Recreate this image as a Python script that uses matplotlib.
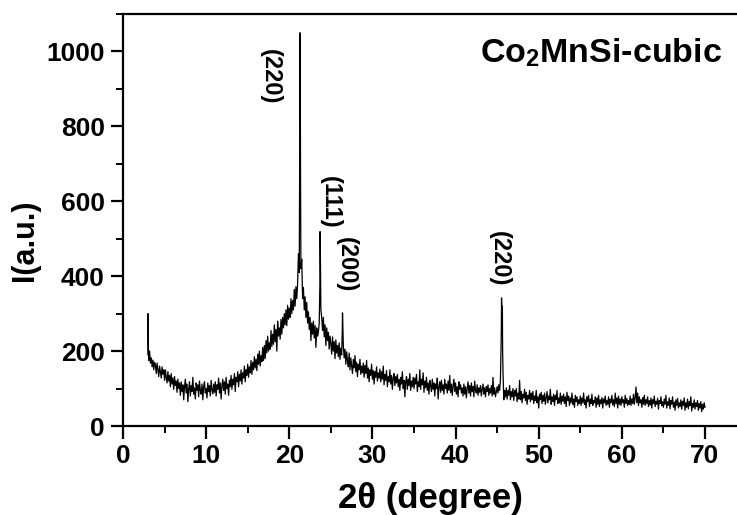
import numpy as np
import matplotlib
matplotlib.use("Agg")
import matplotlib.pyplot as plt
from matplotlib.ticker import MultipleLocator

plt.rcParams['font.family'] = ['Liberation Sans', 'DejaVu Sans']
plt.rcParams['font.weight'] = 'bold'
plt.rcParams['mathtext.fontset'] = 'custom'
plt.rcParams['mathtext.rm'] = 'Liberation Sans:bold'
plt.rcParams['mathtext.bf'] = 'Liberation Sans:bold'
plt.rcParams['mathtext.it'] = 'Liberation Serif'

# scan grid, 0.1 degree steps from 3 to 70
theta_start = 3.0
theta_step = 0.1

# intensity (20 values per row = 2 degrees)
intensity = [
    190, 175, 200, 168, 182, 158, 176, 150, 170, 162, 140, 168, 150, 132, 160, 145, 128, 158, 138, 150,
    122, 150, 130, 115, 145, 120, 135, 105, 140, 112, 128, 98, 132, 108, 120, 90, 125, 100, 115, 82,
    118, 92, 110, 70, 105, 125, 88, 112, 65, 100, 118, 80, 108, 92, 130, 85, 102, 72, 115, 95,
    110, 78, 120, 95, 85, 112, 70, 105, 118, 88, 100, 75, 115, 92, 108, 80, 122, 96, 86, 112,
    90, 118, 80, 110, 98, 128, 88, 115, 72, 108, 125, 95, 118, 85, 130, 100, 112, 82, 122, 105,
    135, 98, 125, 110, 140, 92, 130, 118, 145, 105, 138, 120, 150, 112, 142, 128, 160, 118, 150, 135,
    165, 130, 158, 142, 175, 138, 170, 150, 185, 155, 178, 148, 192, 165, 200, 160, 188, 172, 210, 175,
    215, 180, 228, 195, 240, 200, 222, 205, 255, 212, 245, 218, 270, 225, 258, 200, 280, 240, 262, 232,
    285, 245, 290, 262, 300, 270, 310, 268, 322, 285, 315, 290, 340, 300, 335, 310, 365, 320, 372, 340,
    380, 460, 410, 1050, 420, 445, 340, 370, 310, 345, 290, 330, 275, 305, 258, 290, 228, 275, 245, 280,
    235, 268, 210, 262, 240, 250, 275, 519, 310, 290, 255, 290, 238, 270, 215, 262, 228, 250, 205, 240,
    220, 192, 238, 200, 225, 180, 230, 195, 215, 185, 222, 178, 208, 190, 302, 215, 182, 205, 165, 198,
    175, 158, 195, 150, 182, 160, 140, 178, 155, 188, 145, 170, 132, 165, 150, 178, 138, 160, 142, 168,
    130, 162, 140, 175, 128, 155, 118, 150, 135, 165, 125, 148, 112, 145, 130, 158, 120, 142, 128, 152,
    118, 145, 125, 160, 110, 138, 122, 148, 105, 132, 118, 150, 112, 135, 98, 128, 140, 108, 132, 115,
    138, 105, 125, 95, 130, 112, 145, 100, 122, 78, 118, 132, 98, 125, 108, 140, 95, 120, 105, 130,
    100, 128, 112, 138, 92, 118, 105, 150, 98, 125, 110, 142, 90, 120, 102, 130, 95, 115, 85, 122,
    108, 92, 125, 98, 115, 80, 112, 100, 128, 72, 105, 118, 90, 122, 95, 110, 85, 125, 100, 112,
    88, 120, 95, 135, 90, 112, 82, 108, 125, 92, 115, 85, 105, 78, 118, 98, 110, 88, 102, 80,
    112, 85, 105, 75, 100, 118, 88, 108, 80, 115, 92, 105, 78, 120, 95, 88, 110, 82, 102, 90,
    108, 80, 98, 112, 85, 102, 78, 105, 92, 110, 82, 100, 88, 108, 80, 130, 85, 102, 78, 92,
    105, 88, 110, 95, 125, 250, 290, 150, 70, 95, 78, 102, 72, 95, 82, 108, 70, 92, 78, 100,
    68, 95, 80, 100, 65, 88, 72, 122, 70, 92, 62, 85, 75, 98, 68, 90, 58, 82, 72, 95,
    65, 88, 70, 92, 60, 80, 68, 95, 62, 78, 48, 85, 70, 90, 60, 82, 66, 88, 58, 75,
    92, 62, 80, 70, 98, 58, 78, 65, 85, 55, 82, 70, 95, 60, 75, 62, 88, 58, 80, 66,
    85, 60, 78, 52, 90, 68, 80, 55, 75, 62, 88, 58, 72, 50, 82, 65, 78, 55, 70, 60,
    80, 55, 75, 62, 88, 58, 70, 48, 78, 65, 82, 52, 72, 60, 85, 55, 68, 62, 78, 50,
    75, 58, 82, 52, 70, 60, 76, 48, 72, 62, 80, 55, 68, 58, 78, 50, 72, 62, 82, 56,
    70, 52, 88, 60, 75, 48, 80, 58, 72, 55, 78, 62, 70, 50, 82, 60, 74, 55, 68, 58,
    80, 55, 72, 60, 85, 58, 75, 104, 62, 88, 55, 78, 62, 70, 50, 76, 58, 82, 55, 70,
    60, 78, 52, 68, 56, 75, 48, 70, 60, 80, 52, 66, 58, 74, 45, 68, 60, 78, 54, 65,
    50, 72, 58, 82, 48, 65, 55, 75, 46, 68, 58, 78, 50, 64, 42, 70, 55, 74, 48, 62,
    52, 70, 45, 66, 55, 75, 42, 62, 50, 72, 46, 65, 55, 78, 40, 60, 50, 70, 45, 62,
    52, 68, 42, 60, 48, 65, 38, 58, 45, 62, 50,
]

# sharp reflections sampled finer than the grid
peak_theta = [3.02, 3.05, 21.25, 21.28, 21.33, 21.36, 23.68, 23.73,
              26.38, 26.43, 45.53, 45.57, 45.63, 45.66]
peak_int = [300, 210, 700, 920, 880, 620, 380, 480,
            260, 280, 342, 300, 320, 200]

labels = ['(220)', '(111)', '(200)', '(220)']
label_x = [17.7, 24.9, 26.9, 45.3]
label_y = [932, 596, 430, 447]

theta = theta_start + theta_step * np.arange(len(intensity))
tt = np.concatenate([theta, peak_theta])
ii = np.concatenate([intensity, peak_int])
order = np.argsort(tt, kind='stable')
tt = tt[order]
ii = ii[order]

fig = plt.figure(figsize=(7.37, 5.15), dpi=100)
ax = fig.add_axes([0.1669, 0.1728, 0.8331, 0.8])
ax.plot(tt, ii, color='black', lw=0.9)

ax.set_xlim(0, 73.85)
ax.set_ylim(0, 1100)
ax.xaxis.set_major_locator(MultipleLocator(10))
ax.xaxis.set_minor_locator(MultipleLocator(5))
ax.yaxis.set_major_locator(MultipleLocator(200))
ax.yaxis.set_minor_locator(MultipleLocator(100))
ax.tick_params(which='major', direction='out', length=9, width=1.6, labelsize=19, pad=4)
ax.tick_params(which='minor', direction='out', length=5, width=1.4)
ax.spines['right'].set_visible(False)
for s in ['left', 'bottom', 'top']:
    ax.spines[s].set_linewidth(1.6)
for lab in ax.get_xticklabels() + ax.get_yticklabels():
    lab.set_fontweight('bold')

ax.set_xlabel(u'2\u03b8 (degree)', fontsize=25, fontweight='bold', labelpad=10)
ax.set_ylabel('I(a.u.)', fontsize=22, fontweight='bold')
ax.yaxis.set_label_coords(-0.135, 0.45)

for t, x, y in zip(labels, label_x, label_y):
    ax.text(x, y, t, rotation=270, ha='center', va='center', fontsize=17, fontweight='bold')

fig.text(722 / 737, 1 - 53 / 515, r'Co$_{\mathbf{2}}$MnSi-cubic', ha='right', va='center',
         fontsize=24.5, fontweight='bold')

fig.savefig('out.png', dpi=100)
